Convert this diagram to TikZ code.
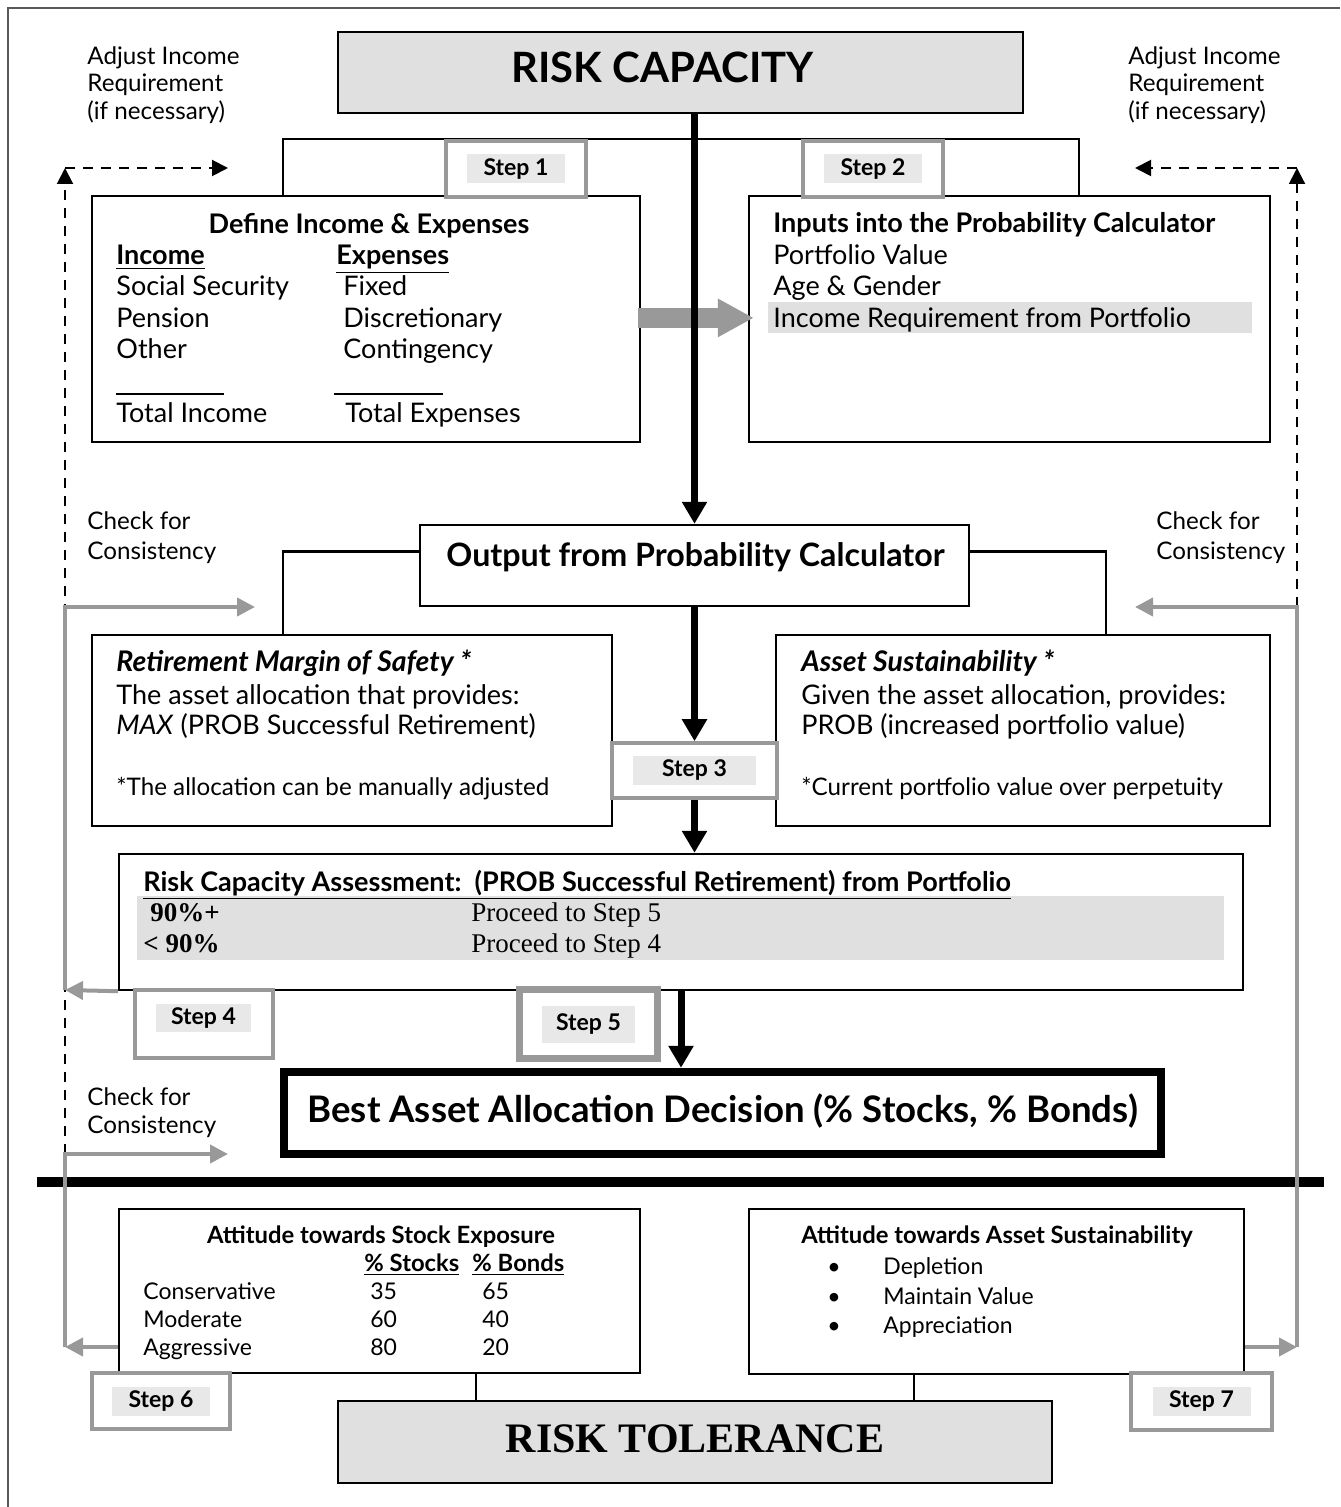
\documentclass[tikz,border=0pt]{standalone}
\usepackage{fontspec}
\setmainfont{Lato}
\newfontfamily\timesfont{Liberation Serif}
\usetikzlibrary{arrows.meta,calc,positioning,backgrounds}
\definecolor{capgray}{gray}{0.88}
\definecolor{stepgray}{gray}{0.6}
\definecolor{labelgray}{gray}{0.91}
\definecolor{loopgray}{gray}{0.6}
\definecolor{framegray}{gray}{0.35}

\begin{document}
\begin{tikzpicture}
    [ x=.5pt, y=-.5pt,
      sized/.style 2 args={minimum width=#1*.5pt, minimum height=#2*.5pt},
      box/.style={draw, line width=1.2pt, inner sep=0pt, fill=white},
      capbox/.style={box, fill=capgray},
      stepbox/.style={draw=stepgray, line width=1.8pt, fill=white, inner sep=0pt},
      steplabel/.style={fill=labelgray, inner sep=0pt, sized={98}{29},
                        font=\bfseries\fontsize{11.5}{12}\selectfont},
      txt/.style={anchor=base west, inner sep=0pt, font=\fontsize{13.5}{15}\selectfont},
      head/.style={txt, font=\bfseries\fontsize{13.5}{15}\selectfont},
      small/.style={txt, font=\fontsize{11.5}{14}\selectfont},
      note/.style={txt, font=\fontsize{12.1}{14}\selectfont},
      serif/.style={txt, font=\timesfont\fontsize{13.5}{15}\selectfont},
      title/.style={anchor=base, inner sep=0pt},
      flow/.style={line width=3.5pt, -{Triangle[length=11pt,width=12pt]}},
      adjust/.style={dash pattern=on 5pt off 4pt, line width=1pt,
                     -{Triangle[length=8pt,width=8pt]}},
      check/.style={draw=loopgray, line width=2pt,
                    -{Triangle[length=9pt,width=9pt]}},
    ]
    \useasboundingbox (0,0) rectangle (1340,1507);
    \draw[framegray, line width=.6pt] (8,1507) -- (8,8) -- (1340,8);

    % risk capacity side
    \node[capbox, sized={685}{81}] (rcap) at (680.5,72.5) {};
    \node[title, font=\bfseries\fontsize{20.9}{23}\selectfont] (rcaptxt) at (662.5,83) {RISK CAPACITY};
    \foreach \line/\yy [count=\i] in {Adjust Income/65, Requirement/92, (if necessary)/120} {
        \node[note] (adjl\i) at (87,\yy) {\line};
        \node[note] (adjr\i) at (1128,\yy) {\line};
    }

    \node[box, sized={548}{246}] (define) at (366,319) {};
    \node[box, sized={521}{246}] (inputs) at (1009.5,319) {};
    \node[head, anchor=base] (defhead) at (369,234) {Define Income \& Expenses};
    \node[head] (inchead) at (116,265) {\underline{Income}};
    \node[head] (exphead) at (336,265) {\underline{Expenses}};
    \foreach \inc/\exp/\yy [count=\i] in {Social Security/Fixed/296,
                                          Pension/Discretionary/328,
                                          Other/Contingency/359} {
        \node[txt] (inc\i) at (116,\yy) {\inc};
        \node[txt] (exp\i) at (343,\yy) {\exp};
    }
    \draw[line width=1pt] (116,394) -- (224,394);
    \draw[line width=1pt] (334,394) -- (443,394);
    \node[txt] (inctot) at (116,423) {Total Income};
    \node[txt] (exptot) at (345,423) {Total Expenses};

    \node[fill=capgray, inner sep=0pt, sized={484}{31}, anchor=north west]
        (inhl) at (768,302) {};
    \node[head] (inhead) at (773,233) {Inputs into the Probability Calculator};
    \node[txt] (in1) at (773,265) {Portfolio Value};
    \node[txt] (in2) at (773,296) {Age \& Gender};
    \node[txt] (in3) at (773,328) {Income Requirement from Portfolio};
    \draw[loopgray, line width=10pt, -{Triangle[length=18pt,width=18pt]}]
        ([xshift=-1.5pt]define.east |- inhl.west) -- ([xshift=3pt]inputs.west |- inhl.west);

    \node[stepbox, sized={140}{56}] (step1) at (516,169) {};
    \node[steplabel] (step1l) at (step1) {Step 1};
    \node[stepbox, sized={140}{56}] (step2) at (873,169) {};
    \node[steplabel] (step2l) at (step2) {Step 2};

    % output of the calculator
    \node[box, sized={549}{81}] (output) at (694.5,565.5) {};
    \node[title, font=\bfseries\fontsize{16.1}{18}\selectfont] (outtxt) at (695.5,566)
        {Output from Probability Calculator};
    \node[box, sized={520}{191}] (margin) at (352,730.5) {};
    \node[box, sized={494}{191}] (sustain) at (1023,730.5) {};
    \node[txt, font=\bfseries\itshape\fontsize{14.2}{16}\selectfont]
        (marhead) at (116,671) {Retirement Margin of Safety *};
    \node[txt] (mar1) at (116,704) {The asset allocation that provides:};
    \node[txt] (mar2) at (116,734) {\textit{MAX} (PROB Successful Retirement)};
    \node[note] (mar3) at (116,795) {*The allocation can be manually adjusted};
    \node[txt, font=\bfseries\itshape\fontsize{14.2}{16}\selectfont]
        (sushead) at (801,671) {Asset Sustainability *};
    \node[txt] (sus1) at (801,704) {Given the asset allocation, provides:};
    \node[txt] (sus2) at (801,734) {PROB (increased portfolio value)};
    \node[note] (sus3) at (801,795) {*Current portfolio value over perpetuity};
    \node[stepbox, sized={165}{55}] (step3) at (694.5,770.5) {};
    \node[steplabel, sized={123}{29}] (step3l) at (step3) {Step 3};

    \node[box, sized={1124}{136}] (assess) at (681,922) {};
    \node[fill=capgray, inner sep=0pt, sized={1087}{64}, anchor=north west]
        (asband) at (137,896) {};
    \node[head, font=\bfseries\fontsize{13.5}{16}\selectfont] (ashead) at (143,891)
        {\underline{Risk Capacity Assessment:\ \ (PROB Successful Retirement) from Portfolio}};
    \node[serif, font=\timesfont\bfseries\fontsize{13.5}{15}\selectfont] (as1) at (150,921) {90\%+};
    \node[serif, font=\timesfont\bfseries\fontsize{13.5}{15}\selectfont] (as2) at (143,952) {< 90\%};
    \node[serif] (go5) at (471,921) {Proceed to Step 5};
    \node[serif] (go4) at (471,952) {Proceed to Step 4};

    \node[stepbox, sized={138}{68}] (step4) at (204,1024) {};
    \node[steplabel, sized={95}{28}] (step4l) at (203.5,1018) {Step 4};
    \node[stepbox, line width=3.5pt, sized={138}{69}] (step5) at (588.5,1024) {};
    \node[steplabel, sized={93}{37}] (step5l) at (step5) {Step 5};

    \node[box, line width=4.2pt, sized={877}{82}] (best) at (722.5,1113) {};
    \node[title, font=\bfseries\fontsize{18.3}{20}\selectfont] (besttxt) at (722.5,1122)
        {Best Asset Allocation Decision (\% Stocks, \% Bonds)};

    \draw[flow] (rcap.south -| output.north) -- (output.north);
    \draw[flow] (output.south) -- (step3.north);
    \draw[flow] (step3.south) -- (step3.south |- assess.north);
    \draw[flow] (assess.south) -- (assess.south |- best.north);

    \begin{scope}[on background layer]
        \draw[line width=1.2pt] ($(define.north west)+(192,0)$) |- (step1.north)
            -| ($(inputs.north east)+(-192,0)$);
        \draw[line width=1.2pt] ($(margin.north west)+(192,0)$) |- ($(output.west)+(0,-14)$);
        \draw[line width=1.2pt] ($(sustain.north east)+(-165,0)$) |- ($(output.east)+(0,-14)$);
    \end{scope}

    % risk tolerance side
    \draw[line width=5pt] (37,1182) -- (1324,1182);

    \node[box, sized={521}{164}] (stock) at (379.5,1291) {};
    \node[box, sized={495}{165}] (sustatt) at (996.5,1291.5) {};
    \node[head, anchor=base, font=\bfseries\fontsize{11.9}{13}\selectfont]
        (stkhead) at (381,1243) {Attitude towards Stock Exposure};
    \node[head, font=\bfseries\fontsize{11.9}{13}\selectfont] (stkcol) at (364,1271) {\underline{\% Stocks}};
    \node[head, font=\bfseries\fontsize{11.9}{13}\selectfont] (bndcol) at (472,1271) {\underline{\% Bonds}};
    \foreach \lvl/\st/\bd/\yy [count=\i] in {Conservative/35/65/1299,
                                             Moderate/60/40/1327,
                                             Aggressive/80/20/1355} {
        \node[small] (lvl\i) at (143,\yy) {\lvl};
        \node[small] (st\i) at (370,\yy) {\st};
        \node[small] (bd\i) at (482,\yy) {\bd};
    }
    \node[head, anchor=base, font=\bfseries\fontsize{11.9}{13}\selectfont]
        (sahead) at (997,1243) {Attitude towards Asset Sustainability};
    \foreach \item/\yy [count=\i] in {Depletion/1274, Maintain Value/1304, Appreciation/1333} {
        \node[small] (bul\i) at (827,\yy) {\textbullet};
        \node[small] (item\i) at (883,\yy) {\item};
    }

    \node[capbox, sized={714}{82}] (rtol) at (695,1442) {};
    \node[title, font=\timesfont\bfseries\fontsize{21}{23}\selectfont] (rtoltxt) at (695,1452)
        {RISK TOLERANCE};
    \coordinate (tolL) at ($(rtol.north)+(-219,0)$);
    \coordinate (tolR) at ($(rtol.north)+(219,0)$);
    \draw[line width=1.2pt] (tolL) -- (tolL |- stock.south);
    \draw[line width=1.2pt] (tolR) -- (tolR |- sustatt.south);

    \node[stepbox, sized={138}{56}] (step6) at (161,1401) {};
    \node[steplabel] (step6l) at (step6) {Step 6};
    \node[stepbox, sized={141}{57}] (step7) at (1201.5,1401.5) {};
    \node[steplabel] (step7l) at (step7) {Step 7};

    % consistency loops
    \coordinate (lTop) at (65,168);
    \coordinate (lTopTip) at (228,168);
    \coordinate (lMid) at (65,607);
    \coordinate (lMidTip) at (255,607);
    \coordinate (lStep4) at (65,990);
    \coordinate (lLow) at (65,1154);
    \coordinate (lLowTip) at (228,1154);
    \coordinate (lBot) at (65,1347);
    \coordinate (rTop) at (1297,168);
    \coordinate (rTopTip) at (1135,168);
    \coordinate (rMid) at (1297,607);
    \coordinate (rMidTip) at (1135,607);
    \coordinate (rBot) at (1297,1347);

    \draw[adjust] (lLow) -- (lTop);
    \draw[adjust] (lTop) -- (lTopTip);
    \draw[adjust] (rMid) -- (rTop);
    \draw[adjust] (rTop) -- (rTopTip);

    \draw[check] (lStep4) -- (lMid) -- (lMidTip);
    \draw[check] (assess.south west) -- (lStep4);
    \draw[check] (lBot) -- (lLow) -- (lLowTip);
    \draw[check] (stock.west |- lBot) -- (lBot);
    \draw[check] (rBot) -- (rMid) -- (rMidTip);
    \draw[check] (sustatt.east |- rBot) -- (rBot);

    \foreach \line/\yy [count=\i] in {Check for/530, Consistency/559} {
        \node[note] (chkl\i) at (87,\yy) {\line};
        \node[note] (chkr\i) at (1156,\yy) {\line};
    }
    \foreach \line/\yy [count=\i] in {Check for/1105, Consistency/1133} {
        \node[note] (chkb\i) at (87,\yy) {\line};
    }
\end{tikzpicture}
\end{document}
